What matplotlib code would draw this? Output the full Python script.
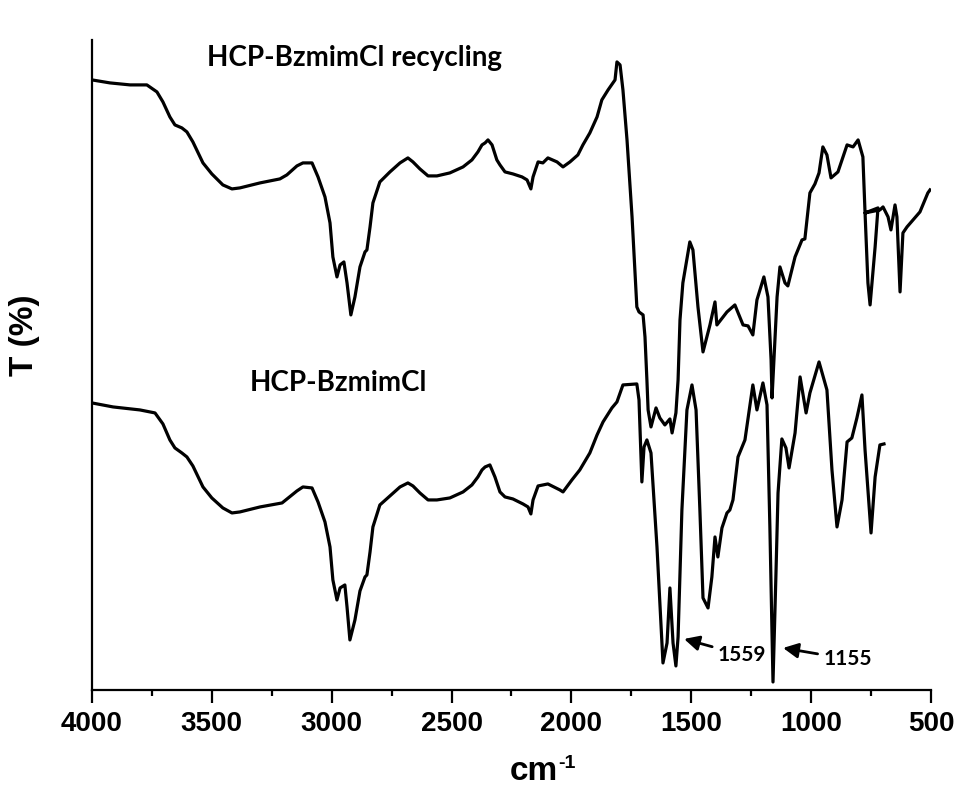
import matplotlib
matplotlib.use('Agg')
import matplotlib.pyplot as plt

# wavenumber (cm-1) / transmittance (a.u.)
wn_recyc = [4000, 3925, 3841, 3771, 3729, 3704, 3675, 3654, 3625, 3604, 3579, 3537,
            3500, 3454, 3416, 3383, 3299, 3216, 3187, 3145, 3120, 3082, 3057, 3028,
            3007, 2995, 2978, 2965, 2949, 2936, 2920, 2903, 2882, 2861, 2853, 2840,
            2828, 2799, 2757, 2715, 2682, 2661, 2632, 2598, 2561, 2507, 2452, 2415,
            2390, 2373, 2360, 2348, 2331, 2311, 2298, 2277, 2244, 2206, 2185, 2169,
            2160, 2139, 2119, 2098, 2060, 2035, 2006, 1973, 1952, 1923, 1893, 1873,
            1847, 1818, 1810, 1797, 1785, 1768, 1747, 1727, 1718, 1701, 1693, 1685,
            1680, 1668, 1647, 1631, 1610, 1589, 1580, 1564, 1555, 1547, 1535, 1506,
            1493, 1472, 1451, 1422, 1401, 1393, 1351, 1318, 1284, 1263, 1243, 1226,
            1197, 1180, 1167, 1163, 1155, 1142, 1130, 1109, 1097, 1067, 1038, 1026,
            1005, 984, 967, 951, 934, 917, 888, 850, 825, 804, 784, 775, 763, 754,
            733, 721, 775, 713, 700, 679, 667, 650, 642, 629, 617, 600, 575, 546,
            513, 504]
t_recyc = [610, 607, 605, 605, 598, 588, 573, 565, 562, 558, 548, 527,
           516, 505, 501, 502, 507, 511, 515, 524, 527, 527, 513, 493,
           467, 433, 413, 425, 428, 407, 375, 393, 423, 438, 440, 463,
           487, 508, 518, 527, 532, 528, 521, 514, 514, 517, 523, 530,
           538, 545, 547, 550, 545, 530, 525, 518, 516, 513, 510, 501,
           513, 528, 527, 532, 528, 523, 528, 535, 545, 557, 573, 590,
           600, 610, 628, 625, 600, 550, 473, 383, 378, 375, 353, 310,
           280, 263, 282, 272, 265, 271, 257, 277, 310, 370, 407, 448,
           440, 383, 338, 365, 388, 365, 378, 385, 365, 364, 355, 390,
           413, 393, 330, 292, 330, 393, 423, 407, 404, 433, 450, 451,
           497, 506, 517, 543, 535, 512, 518, 545, 543, 550, 533, 477, 407, 385,
           443, 482, 477, 480, 483, 473, 460, 485, 473, 398, 457, 463, 470, 478,
           497, 500]

wn_fresh = [4000, 3912, 3800, 3737, 3704, 3675, 3654, 3625, 3604, 3579, 3537, 3500,
            3454, 3416, 3383, 3299, 3207, 3145, 3120, 3082, 3057, 3028, 3007, 2995,
            2978, 2965, 2945, 2936, 2924, 2903, 2882, 2861, 2853, 2840, 2828, 2799,
            2757, 2715, 2682, 2661, 2632, 2598, 2561, 2507, 2452, 2415, 2390, 2373,
            2360, 2340, 2319, 2298, 2277, 2244, 2202, 2181, 2169, 2160, 2139, 2098,
            2048, 2035, 1998, 1965, 1923, 1893, 1868, 1831, 1810, 1785, 1727, 1718,
            1706, 1697, 1685, 1668, 1643, 1618, 1601, 1589, 1576, 1564, 1555, 1539,
            1518, 1497, 1480, 1464, 1451, 1430, 1414, 1401, 1389, 1372, 1351, 1339,
            1326, 1305, 1276, 1243, 1226, 1201, 1184, 1172, 1159, 1147, 1138, 1122,
            1105, 1092, 1067, 1046, 1021, 1005, 967, 934, 913, 892, 871, 850,
            830, 809, 788, 775, 750, 733, 713, 696]
t_fresh = [287, 283, 280, 277, 266, 250, 242, 237, 233, 224, 203, 192,
           182, 177, 178, 183, 187, 199, 203, 202, 188, 168, 143, 110,
           90, 102, 105, 83, 50, 70, 99, 113, 115, 138, 163, 185,
           194, 203, 207, 204, 197, 190, 190, 192, 198, 205, 213, 220,
           223, 225, 213, 198, 193, 191, 186, 183, 176, 190, 204, 206,
           200, 198, 210, 220, 237, 255, 268, 282, 288, 305, 306, 290,
           208, 243, 250, 237, 143, 27, 47, 102, 47, 24, 53, 180,
           280, 305, 280, 180, 92, 82, 113, 153, 133, 162, 177, 180,
           190, 233, 250, 305, 280, 307, 285, 163, 8, 113, 197, 251,
           242, 222, 257, 313, 277, 297, 328, 300, 220, 163, 190, 248,
           252, 272, 295, 240, 157, 213, 245, 246]

x_ticks = [4000, 3500, 3000, 2500, 2000, 1500, 1000, 500]

fig = plt.figure(figsize=(9.57, 7.87), dpi=100)
ax = fig.add_axes([0.0961, 0.1233, 0.8767, 0.8260])

ax.plot(wn_recyc, t_recyc, color='black', lw=2.3, solid_joinstyle='round')
ax.plot(wn_fresh, t_fresh, color='black', lw=2.3, solid_joinstyle='round')

ax.set_xlim(4000, 500)
ax.set_ylim(0, 650)
ax.set_xticks(x_ticks)
ax.set_xticks([3750, 3250, 2750, 2250, 1750, 1250, 750], minor=True)
ax.set_yticks([])
for s in ['top', 'right']:
    ax.spines[s].set_visible(False)
for s in ['left', 'bottom']:
    ax.spines[s].set_linewidth(1.6)
ax.tick_params(axis='x', which='major', direction='out', length=9, width=1.6, pad=6)
ax.tick_params(axis='x', which='minor', direction='out', length=4.5, width=1.6)
for lab in ax.get_xticklabels():
    lab.set_fontfamily('Liberation Sans')
    lab.set_fontweight('bold')
    lab.set_fontsize(20)

# axis titles placed by hand (bold cm with a hyphen superscript)
fig.text(510 / 957, 7 / 787, 'cm', family='Liberation Sans', fontweight='bold',
         fontsize=24, ha='left', va='baseline')
fig.text(558 / 957, 19 / 787, '-1', family='Liberation Sans', fontweight='bold',
         fontsize=14, ha='left', va='baseline')
fig.text(25 / 957, 1 - 335 / 787, 'T (%)', family='Liberation Sans', fontweight='bold',
         fontsize=24, rotation=90, ha='center', va='center')

ax.text(2903, 632, 'HCP-BzmimCl recycling', fontfamily='Lato', fontweight='bold',
        fontsize=20, ha='center', va='center')
ax.text(2970, 307, 'HCP-BzmimCl', fontfamily='Lato', fontweight='bold',
        fontsize=20, ha='center', va='center')

arrow = dict(arrowstyle='-|>,head_length=0.6,head_width=0.3', color='black', lw=2,
             shrinkA=2, shrinkB=0)
ax.annotate('1559', xy=(1530, 51), xytext=(1390, 35), fontfamily='Lato',
            fontweight='bold', fontsize=15, ha='left', va='center', arrowprops=arrow)
ax.annotate('1155', xy=(1117, 42), xytext=(950, 31), fontfamily='Lato',
            fontweight='bold', fontsize=15, ha='left', va='center', arrowprops=arrow)

plt.savefig('out.png', dpi=100)
